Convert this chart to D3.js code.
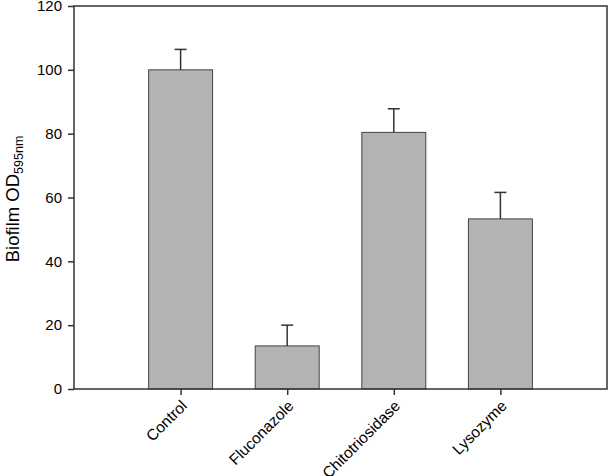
<!DOCTYPE html>
<html>
<head>
<meta charset="utf-8">
<script src="https://cdn.jsdelivr.net/npm/d3@7"></script>
<style>
  body { margin: 0; background: #fff; }
  svg text { font-family: "Liberation Sans", Arial, sans-serif; fill: #000; }
</style>
</head>
<body>
<svg id="chart" width="608" height="476"></svg>
<script>
// treatments and biofilm values (% of control)
var groups = ["Control", "Fluconazole", "Chitotriosidase", "Lysozyme"];
var means = [100, 13.5, 80.4, 53.3];
var errs = [6.4, 6.5, 7.4, 8.3];
var yTicks = [0, 20, 40, 60, 80, 100, 120];

var svg = d3.select("svg#chart");
var mLeft = 74, mRight = 607, mTop = 6, mBottom = 389;

// five slots across the frame, bars sit on slot boundaries 1..4
var step = (mRight - mLeft) / 5;
var x = d3.scalePoint()
          .domain(groups)
          .range([mLeft + step, mRight - step]);
var barW = step * 0.6;

var y = d3.scaleLinear().domain([0, 120]).range([mBottom, mTop]);

// bars
svg.selectAll("rect.bar")
   .data(groups)
   .enter().append("rect")
   .attr("class", "bar")
   .attr("x", d => x(d) - barW / 2)
   .attr("y", (d, i) => y(means[i]))
   .attr("width", barW)
   .attr("height", (d, i) => mBottom - y(means[i]))
   .attr("fill", "#b3b3b3")
   .attr("stroke", "#444").attr("stroke-width", 1);

// error bars (upper only)
groups.forEach(function(g, i) {
  var eTop = y(means[i] + errs[i]);
  svg.append("line")
     .attr("x1", x(g)).attr("x2", x(g))
     .attr("y1", y(means[i])).attr("y2", eTop)
     .attr("stroke", "#333").attr("stroke-width", 1.5);
  svg.append("line")
     .attr("x1", x(g) - 6).attr("x2", x(g) + 6)
     .attr("y1", eTop).attr("y2", eTop)
     .attr("stroke", "#333").attr("stroke-width", 1.5);
});

// frame
svg.append("rect")
   .attr("x", mLeft).attr("y", mTop)
   .attr("width", mRight - mLeft).attr("height", mBottom - mTop)
   .attr("fill", "none").attr("stroke", "#333").attr("stroke-width", 1.5);

// y axis
var yAxis = svg.append("g")
   .attr("transform", "translate(" + mLeft + ",0)")
   .call(d3.axisLeft(y).tickValues(yTicks).tickSize(6).tickPadding(6));
yAxis.select(".domain").remove();
yAxis.selectAll("line").attr("stroke", "#333").attr("stroke-width", 1.5);
yAxis.selectAll("text").style("font-size", "15px").style("font-family", "'Liberation Sans', Arial, sans-serif");

// x axis: ticks + rotated labels
var xAxis = svg.append("g")
   .attr("transform", "translate(0," + mBottom + ")")
   .call(d3.axisBottom(x).tickSize(6).tickPadding(0));
xAxis.select(".domain").remove();
xAxis.selectAll("line").attr("stroke", "#333").attr("stroke-width", 1.5);
xAxis.selectAll("text")
   .attr("y", 0).attr("dy", "0.35em")
   .attr("transform", "translate(3,14) rotate(-45)")
   .attr("text-anchor", "end")
   .style("font-size", "15.5px")
   .style("font-family", "'Liberation Sans', Arial, sans-serif");

// y label with subscript
var yl = svg.append("text")
   .attr("transform", "translate(19,199) rotate(-90)")
   .attr("text-anchor", "middle")
   .style("font-size", "18.5px");
yl.append("tspan").text("Biofilm OD");
yl.append("tspan").attr("baseline-shift", "-30%").style("font-size", "12.5px").text("595nm");
</script>
</body>
</html>
